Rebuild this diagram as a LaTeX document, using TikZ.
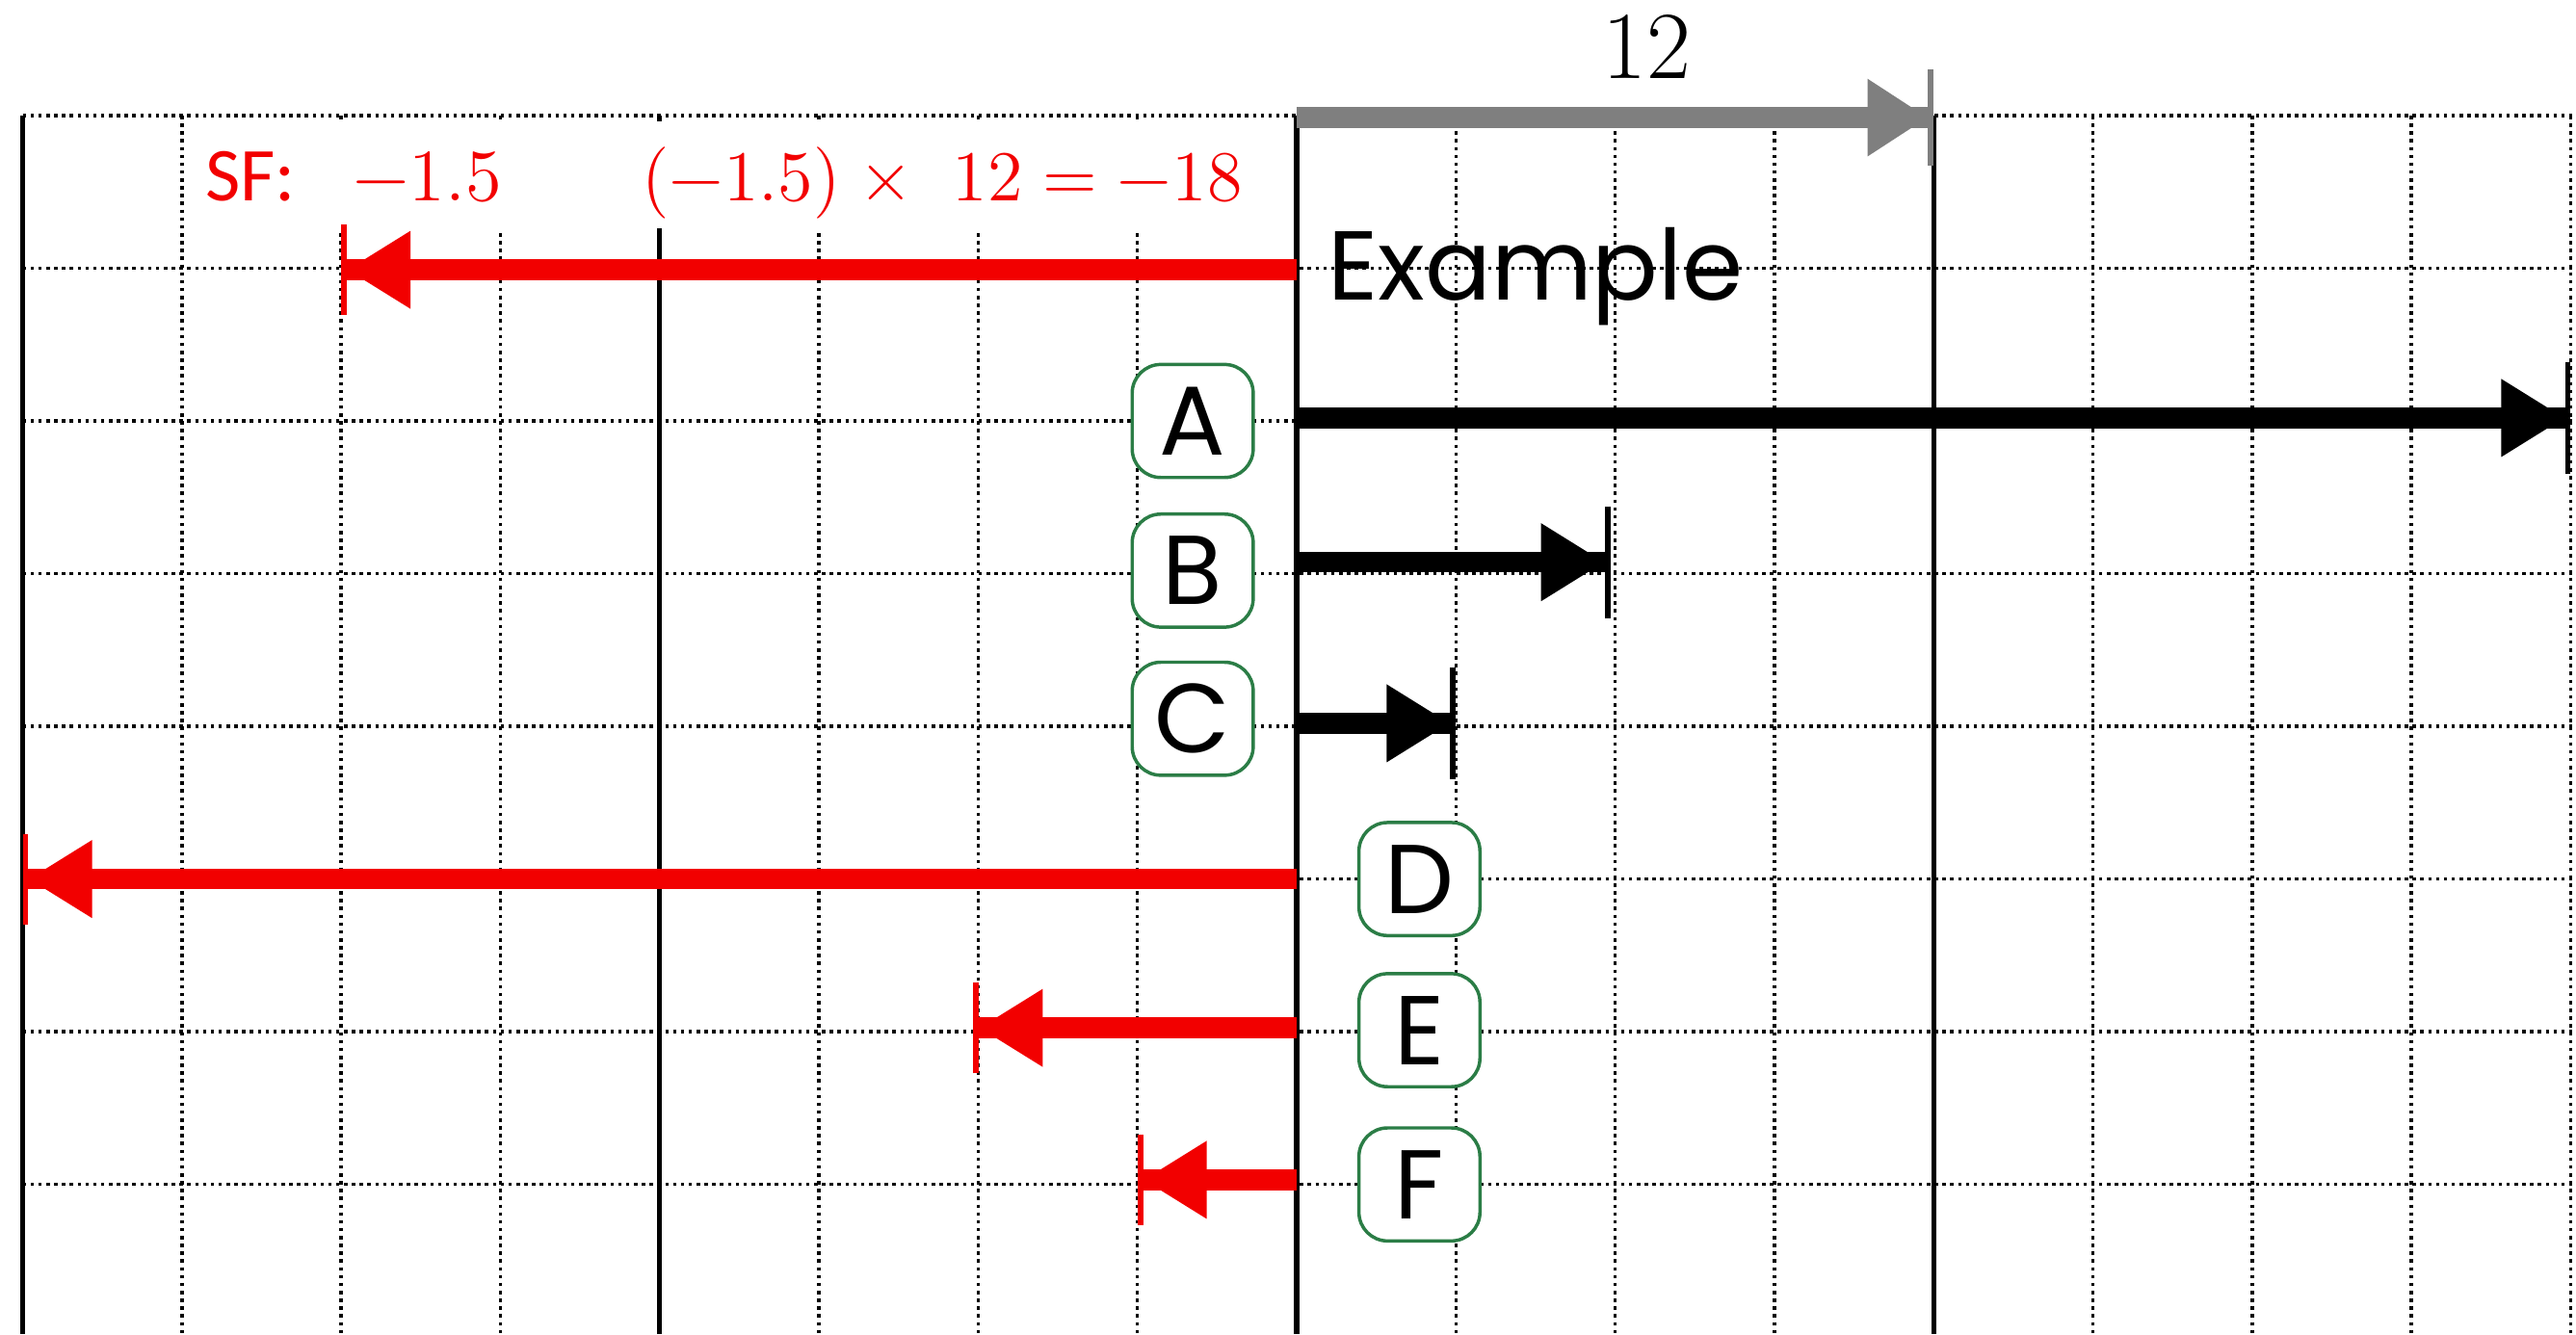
\documentclass[tikz,border=0pt]{standalone}
\usepackage{fontspec}
\usetikzlibrary{arrows.meta, positioning}
\newfontfamily\geofont{Poppins}
\newfontfamily\calfont{Carlito}
\definecolor{VecRed}{HTML}{F20000}
\definecolor{VecGray}{HTML}{7F7F7F}
\definecolor{BoxGreen}{HTML}{2B7D46}
\tikzset{
    % Grid styles
    gridline/.style={
        black,
        line width=0.6pt,
        dash pattern=on 0.6pt off 0.8pt
    },
    axisline/.style={
        black,
        line width=0.9pt
    },
    % Letter labels
    letterbox/.style={
        rectangle,
        rounded corners=0.18cm,
        draw=BoxGreen,
        line width=0.6pt,
        fill=white,
        minimum width=0.76cm,
        minimum height=0.71cm,
        inner sep=0pt,
        font=\geofont\fontsize{17.5}{18}\selectfont
    },
    % Vector styles
    posvec/.style={
        black,
        line width=3.7pt,
        -{Triangle[length=0.40cm,width=0.46cm,sep=0pt] Bar[width=0.70cm,line width=1pt,sep=0pt]}
    },
    negvec/.style={
        VecRed,
        line width=3.7pt,
        -{Triangle[length=0.40cm,width=0.46cm,sep=0pt] Bar[width=0.57cm,line width=1pt,sep=0pt]}
    },
    unitvec/.style={
        VecGray,
        line width=3.7pt,
        -{Triangle[length=0.38cm,width=0.46cm,sep=0pt] Bar[width=0.60cm,line width=1pt,sep=0pt]}
    },
    redtext/.style={
        VecRed,
        inner sep=0pt,
        font=\calfont\fontsize{13.6}{16}\selectfont
    }
}

\begin{document}
\begin{tikzpicture}[x=1cm, y=0.959cm]
    \useasboundingbox (-8.143,-7.981) rectangle (8.034,0.757);

    % Grid
    \foreach \x in {-7,-6,-5,-3,-2,-1,1,2,3,5,6,7,8}
        \draw[gridline] (\x,0) -- (\x,-7.98);
    \foreach \y in {0,-1,...,-7}
        \draw[gridline] (-8,\y) -- (8.04,\y);
    \foreach \x in {-8,-4,0,4}
        \draw[axisline] (\x,0) -- (\x,-7.98);

    % Worked example
    \node[fill=white, minimum width=6.86cm, minimum height=0.67cm, inner sep=0pt] (sfbox) at (-3.545,-0.39) {};
    \node[redtext, anchor=base west] (sf) at (-6.86,-0.555)
        {SF:\hspace{0.75em}{\rmfamily\fontsize{13.2}{16}\selectfont −1.5}};
    \node[redtext, anchor=base west, font=\rmfamily\fontsize{12.8}{16}\selectfont] (calc) at (-4.12,-0.555)
        {(−1.5)\hspace{0.25em}×\hspace{0.55em}12\hspace{0.28em}=\hspace{0.28em}−18};
    \node[inner sep=0pt, anchor=base west, font=\geofont\fontsize{17.5}{18}\selectfont] (example) at (0.19,-1.211) {Example};

    % Unit vector
    \coordinate (u0) at (0,-0.013);
    \coordinate (u1) at (4,-0.013);
    \draw[unitvec] (u0) -- (u1);
    \node[inner sep=0pt, anchor=base, font=\rmfamily\fontsize{17.2}{18}\selectfont] (twelve) at (2.2,0.24) {12};

    % Scaled vectors
    \coordinate (o0) at (0,-1.01);   \coordinate (e0) at (-6,-1.01);
    \coordinate (oa) at (0,-1.98);   \coordinate (ea) at (8,-1.98);
    \coordinate (ob) at (0,-2.925);  \coordinate (eb) at (1.97,-2.925);
    \coordinate (oc) at (0,-3.98);   \coordinate (ec) at (1,-3.98);
    \coordinate (od) at (0,-5);      \coordinate (ed) at (-8,-5);
    \coordinate (oe) at (0,-5.975);  \coordinate (ee) at (-2.03,-5.975);
    \coordinate (of) at (0,-6.97);   \coordinate (ef) at (-1,-6.97);

    \draw[negvec] (o0) -- (e0);
    \draw[posvec] (oa) -- (ea);
    \draw[posvec] (ob) -- (eb);
    \draw[posvec] (oc) -- (ec);
    \draw[negvec] (od) -- (ed);
    \draw[negvec] (oe) -- (ee);
    \draw[negvec] (of) -- (ef);

    % Labels
    \node[letterbox] (A) at (-0.653,-2) {A};
    \node[letterbox] (B) at (-0.653,-2.98) {B};
    \node[letterbox] (C) at (-0.653,-3.95) {C};
    \node[letterbox] (D) at (0.771,-5) {D};
    \node[letterbox] (E) at (0.771,-5.99) {E};
    \node[letterbox] (F) at (0.771,-7) {F};
\end{tikzpicture}
\end{document}
